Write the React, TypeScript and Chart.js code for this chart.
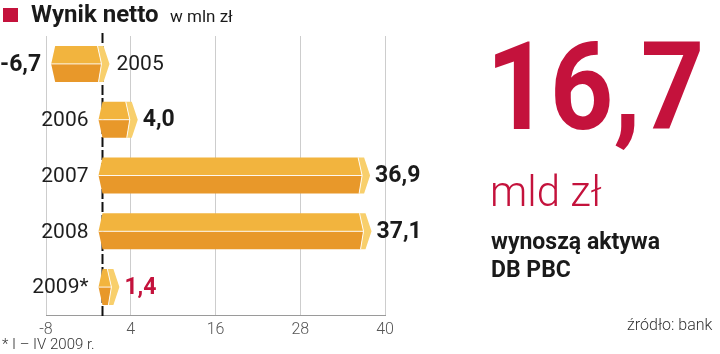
import React, { useEffect, useRef } from "react";
import { Chart, registerables } from "chart.js";

Chart.register(...registerables);

const years = ["2005", "2006", "2007", "2008", "2009*"];
const values = [-6.7, 4.0, 36.9, 37.1, 1.4];
const valueLabels = ["-6,7", "4,0", "36,9", "37,1", "1,4"];
const highlighted = [false, false, false, false, true];
const xMin = -8;
const xMax = 40;
const xStep = 12;

const FONT = "Roboto, 'Open Sans', 'DejaVu Sans', sans-serif";
const RED = "#c4123c";
const TOP = "#f2b43e";
const BOTTOM = "#e8982a";
const CAP = "#f8cf6c";

const barPlugin = {
  id: "prismBars",
  beforeDatasetsDraw(chart: any) {
    const { ctx, chartArea, scales } = chart;
    const x0 = scales.x.getPixelForValue(0);
    ctx.save();
    ctx.strokeStyle = "#111";
    ctx.lineWidth = 2;
    ctx.setLineDash([10, 3]);
    ctx.beginPath();
    ctx.moveTo(x0, chartArea.top - 3);
    ctx.lineTo(x0, chartArea.bottom + 3);
    ctx.stroke();
    ctx.restore();
  },
  afterDatasetsDraw(chart: any) {
    const { ctx, scales } = chart;
    const meta = chart.getDatasetMeta(0);
    const x0 = scales.x.getPixelForValue(0);
    ctx.save();
    meta.data.forEach((el: any, i: number) => {
      const y = el.y;
      const h = el.height / 2;
      const a = Math.min(el.x, el.base);
      const b = Math.max(el.x, el.base);
      // top half
      ctx.fillStyle = TOP;
      ctx.beginPath();
      ctx.moveTo(a, y - h);
      ctx.lineTo(b - 5, y - h);
      ctx.lineTo(b - 1, y);
      ctx.lineTo(a - 4, y);
      ctx.closePath();
      ctx.fill();
      // bottom half
      ctx.fillStyle = BOTTOM;
      ctx.beginPath();
      ctx.moveTo(a - 4, y);
      ctx.lineTo(b - 1, y);
      ctx.lineTo(b - 4, y + h);
      ctx.lineTo(a, y + h);
      ctx.closePath();
      ctx.fill();
      // cap
      ctx.fillStyle = CAP;
      ctx.beginPath();
      ctx.moveTo(b - 5, y - h);
      ctx.lineTo(b + 1, y - h);
      ctx.lineTo(b + 7, y);
      ctx.lineTo(b + 1, y + h);
      ctx.lineTo(b - 4, y + h);
      ctx.lineTo(b - 1, y);
      ctx.closePath();
      ctx.fill();
      // highlight lines
      ctx.strokeStyle = "rgba(255,255,255,0.9)";
      ctx.lineWidth = 1;
      ctx.beginPath();
      ctx.moveTo(a - 4, y);
      ctx.lineTo(b - 1, y);
      ctx.moveTo(b - 5, y - h);
      ctx.lineTo(b - 1, y);
      ctx.lineTo(b - 4, y + h);
      ctx.stroke();

      // labels
      ctx.textBaseline = "middle";
      const v = values[i];
      ctx.font = `400 21px ${FONT}`;
      ctx.fillStyle = "#1e1e1e";
      if (v >= 0) {
        ctx.textAlign = "right";
        ctx.fillText(years[i], x0 - 14, y + 1);
      } else {
        ctx.textAlign = "left";
        ctx.fillText(years[i], x0 + 14, y + 1);
      }
      ctx.font = `700 23px ${FONT}`;
      ctx.fillStyle = highlighted[i] ? RED : "#1a1a1a";
      if (v >= 0) {
        ctx.textAlign = "left";
        ctx.fillText(valueLabels[i], b + 12, y + 1);
      } else {
        ctx.textAlign = "right";
        ctx.fillText(valueLabels[i], a - 14, y + 1);
      }
    });
    ctx.restore();
  },
};

export default function App() {
  const ref = useRef<HTMLCanvasElement | null>(null);
  useEffect(() => {
    document.body.style.margin = "0";
    const chart = new Chart(ref.current as HTMLCanvasElement, {
      type: "bar",
      data: {
        labels: years,
        datasets: [
          {
            data: values,
            backgroundColor: "rgba(0,0,0,0)",
            borderWidth: 0,
            barThickness: 36,
          },
        ],
      },
      options: {
        indexAxis: "y",
        animation: false,
        responsive: false,
        events: [],
        layout: { padding: { left: 46, right: 335, top: 36, bottom: 0 } },
        plugins: { legend: { display: false }, tooltip: { enabled: false } },
        scales: {
          x: {
            min: xMin,
            max: xMax,
            ticks: {
              stepSize: xStep,
              color: "#555",
              padding: 5,
              font: { family: FONT, size: 16, weight: "300" as any },
            },
            grid: { color: "#cdcdcd", drawTicks: false, lineWidth: 1 },
            border: { color: "#9a9a9a", width: 1 },
            afterFit: (s: any) => {
              s.height = 39;
            },
          },
          y: { display: false },
        },
      },
      plugins: [barPlugin],
    } as any);
    return () => chart.destroy();
  }, []);

  return (
    <div style={{ position: "relative", width: 720, height: 354, background: "#fff", overflow: "hidden", fontFamily: FONT }}>
      <canvas ref={ref} width={720} height={354} style={{ position: "absolute", left: 0, top: 0 }} />
      <div style={{ position: "absolute", left: 3, top: 8, width: 15, height: 14, background: RED }} />
      <div style={{ position: "absolute", left: 31, top: -1, fontSize: 24, fontWeight: 700, color: "#1a1a1a", whiteSpace: "nowrap", lineHeight: "30px" }}>Wynik netto</div>
      <div style={{ position: "absolute", left: 170, top: 5, fontSize: 17, fontWeight: 400, color: "#1a1a1a", whiteSpace: "nowrap", lineHeight: "22px" }}>w mln zł</div>
      <div style={{ position: "absolute", left: 2, top: 335, fontSize: 15, fontWeight: 300, color: "#333", whiteSpace: "nowrap", lineHeight: "18px" }}>* I – IV 2009 r.</div>
      <div style={{ position: "absolute", left: 627, top: 316, fontSize: 16, fontWeight: 300, color: "#333", whiteSpace: "nowrap", lineHeight: "18px" }}>źródło: bank</div>
      <div style={{ position: "absolute", left: 486, top: 18, fontSize: 122, fontWeight: 700, color: RED, whiteSpace: "nowrap", lineHeight: "140px", transform: "scaleX(0.91)", transformOrigin: "left top" }}>16,7</div>
      <div style={{ position: "absolute", left: 490, top: 168, fontSize: 42, fontWeight: 300, color: RED, whiteSpace: "nowrap", lineHeight: "48px" }}>mld zł</div>
      <div style={{ position: "absolute", left: 491, top: 228, fontSize: 23, fontWeight: 700, color: "#1a1a1a", whiteSpace: "nowrap", lineHeight: "28px" }}>wynoszą aktywa</div>
      <div style={{ position: "absolute", left: 491, top: 256, fontSize: 23, fontWeight: 700, color: "#1a1a1a", whiteSpace: "nowrap", lineHeight: "28px" }}>DB PBC</div>
    </div>
  );
}
